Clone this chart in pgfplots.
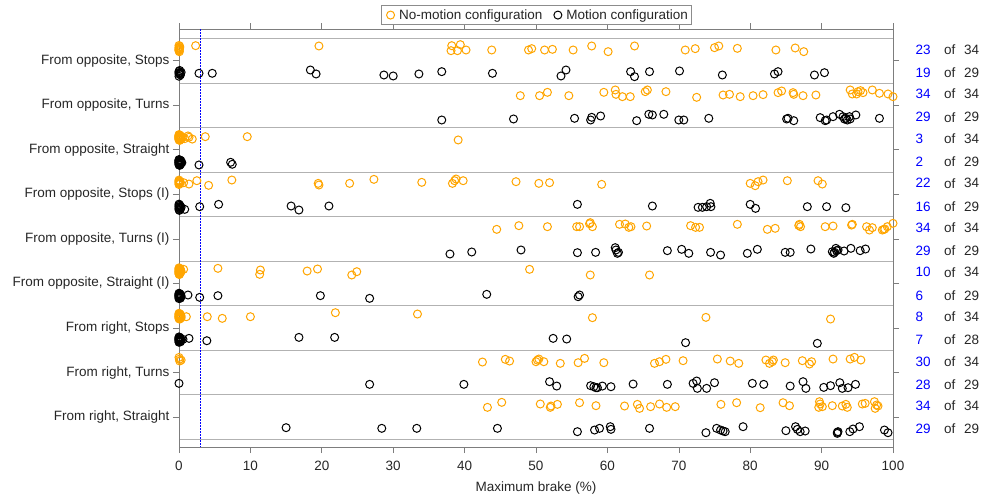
\documentclass[border=0pt]{standalone}
\usepackage{fontspec}
\setmainfont{Liberation Sans}
\usepackage{pgfplots}
\pgfplotsset{compat=1.18}
\definecolor{nomotion}{RGB}{255,165,0}
\definecolor{axisgray}{RGB}{125,125,125}
\definecolor{labelgray}{RGB}{38,38,38}
\newcommand{\lblfont}{\fontsize{13.5bp}{16bp}\selectfont}
% counts right of the axis: y, count, total
\newcommand{\cnt}[3]{%
  \node[anchor=west, inner sep=0pt, font=\lblfont, text=blue, xshift=22.5bp] at (axis cs:100,#1) {#2};
  \node[anchor=west, inner sep=0pt, font=\lblfont, text=labelgray, xshift=51bp] at (axis cs:100,#1) {of};
  \node[anchor=west, inner sep=0pt, font=\lblfont, text=labelgray, xshift=71bp] at (axis cs:100,#1) {#3};}

\begin{document}
\begin{tikzpicture}
\begin{axis}[
  scale only axis, width=714bp, height=418bp,
  xmin=0, xmax=100, ymin=0.29, ymax=9.67, y dir=reverse,
  clip=false,
  xtick={0,10,...,100},
  ytick={1,...,9},
  yticklabels={{From opposite, Stops},{From opposite, Turns},{From opposite, Straight},
    {From opposite, Stops (I)},{From opposite, Turns (I)},{From opposite, Straight (I)},
    {From right, Stops},{From right, Turns},{From right, Straight}},
  minor ytick={0.5,1.5,...,9.5},
  yminorgrids, minor tick length=0pt,
  minor grid style={black!30, line width=0.8bp},
  tick align=outside, major tick length=6bp,
  major tick style={axisgray, line width=0.6bp},
  axis line style={axisgray, line width=0.6bp},
  tick label style={font=\lblfont, text=labelgray},
  xticklabel shift=5bp,
  /pgf/number format/assume math mode=true,
  xlabel={Maximum brake (\%)},
  xlabel style={font=\lblfont, text=labelgray, yshift=-4bp},
  legend columns=2,
  legend cell align=left,
  legend image code/.code={\draw[#1] plot coordinates {(0bp,0bp)};\path (-8bp,0bp) (6bp,0bp);},
  legend style={at={(0.5,1)}, anchor=south, yshift=4bp, draw=black!45, line width=0.6bp,
    font=\lblfont, text=labelgray, inner xsep=1bp, inner ysep=2bp,
    /tikz/every even column/.append style={column sep=5bp}},
]
\addplot[only marks, mark=o, mark size=4bp, nomotion, line width=1bp] coordinates {
(0,0.66) (0,0.70) (0.05,0.74) (0,0.78) (0.1,0.68) (0,0.72) (0.05,0.80) (0,0.76) (0.1,0.71) (0,0.75) (2.33,0.664)
(19.6,0.671) (38.2,0.664) (38.1,0.776) (39.4,0.641) (39.0,0.776) (40.2,0.761) (43.8,0.761) (48.95,0.761)
(49.4,0.731) (51.2,0.761) (52.3,0.746) (55.2,0.761) (57.8,0.671) (60.1,0.798) (63.8,0.671) (70.9,0.761)
(72.3,0.731) (75.0,0.709) (75.6,0.671) (78.2,0.724) (83.6,0.761) (86.3,0.716) (87.5,0.798)
(47.8,1.786) (50.5,1.786) (51.6,1.711) (54.6,1.786) (59.5,1.711) (61.1,1.658) (61.2,1.756) (62.1,1.808)
(63.2,1.808) (65.3,1.696) (65.6,1.658) (68.2,1.696) (72.5,1.823) (76.2,1.771) (77.1,1.756) (78.6,1.808)
(80.4,1.786) (81.8,1.763) (83.9,1.718) (84.4,1.681) (86.0,1.718) (86.1,1.756) (87.4,1.786) (89.2,1.771)
(94.0,1.658) (94.3,1.748) (95.1,1.696) (94.9,1.748) (95.45,1.673) (95.8,1.718) (97.1,1.658) (98.1,1.733)
(99.3,1.748) (100,1.808)
(0,2.66) (0,2.68) (0,2.70) (0,2.72) (0,2.74) (0,2.76) (0,2.78) (0.1,2.67) (0.1,2.71) (0.1,2.75) (0.1,2.79)
(0.2,2.69) (0.2,2.73) (0.2,2.77) (0,2.69) (0,2.73) (0,2.75) (0.05,2.71) (0.05,2.77) (0.15,2.72) (0.15,2.74)
(0.3,2.70) (0.3,2.76) (0,2.71) (0.1,2.73) (0.2,2.75) (0.55,2.72) (0.8,2.75) (1.26,2.69) (1.4,2.72) (1.86,2.76)
(3.68,2.706) (9.56,2.706) (39.1,2.780)
(0,3.68) (0,3.70) (0,3.72) (0,3.74) (0,3.76) (0,3.78) (0.1,3.71) (0.1,3.75) (0.2,3.73)
(0.65,3.739) (1.4,3.769) (2.5,3.694)
(4.15,3.798) (7.4,3.679) (19.5,3.754) (19.6,3.791) (23.9,3.754) (27.3,3.664) (34.0,3.731) (38.3,3.754)
(38.6,3.694) (38.8,3.656) (39.8,3.694) (47.2,3.716) (50.4,3.754) (51.9,3.739) (59.2,3.776) (80.0,3.754)
(80.7,3.806) (81.1,3.716) (81.8,3.679) (85.2,3.694) (89.5,3.694) (90.1,3.769)
(44.5,4.786) (47.6,4.703) (51.6,4.726) (55.7,4.726) (56.1,4.726) (57.6,4.636) (57.9,4.726) (61.7,4.673)
(62.5,4.666) (63.0,4.741) (63.3,4.726) (65.5,4.711) (71.65,4.703) (72.35,4.741) (72.9,4.741) (78.2,4.673)
(82.4,4.786) (83.5,4.763) (86.9,4.673) (87.05,4.726) (90.5,4.726) (91.6,4.711) (94.3,4.673) (96.3,4.726)
(96.7,4.801) (97.1,4.748) (98.5,4.801) (98.85,4.778) (99.2,4.726) (100,4.651) (86.8,4.70) (94.2,4.69)
(98.7,4.79) (57.5,4.66)
(0,5.65) (0,5.67) (0,5.69) (0,5.71) (0,5.73) (0,5.75) (0,5.77) (0,5.79) (0.1,5.66) (0.1,5.70) (0.1,5.74)
(0.1,5.78) (0.2,5.68) (0.2,5.72) (0.2,5.76) (0.05,5.68) (0.05,5.72) (0.05,5.80) (0.15,5.70) (0.15,5.75)
(0.3,5.73) (0,5.74) (0.1,5.72) (0.65,5.683)
(5.45,5.661) (11.4,5.698) (11.3,5.795) (17.95,5.721) (19.4,5.676) (24.2,5.810) (24.9,5.736) (49.1,5.683)
(57.6,5.810) (65.9,5.810)
(0,6.67) (0,6.69) (0,6.71) (0,6.73) (0,6.75) (0,6.77) (0,6.79) (0.1,6.68) (0.1,6.72) (0.1,6.76) (0.1,6.80)
(0.2,6.70) (0.2,6.74) (0.2,6.78) (0.05,6.70) (0.05,6.74) (0.05,6.78) (0.15,6.72) (0.15,6.76) (0.3,6.73)
(0.3,6.77) (0,6.74) (0.1,6.74) (0.2,6.72) (0.05,6.76) (1.03,6.746)
(3.96,6.746) (6.06,6.783) (10.0,6.746) (21.9,6.656) (33.4,6.686) (57.9,6.768) (73.8,6.761) (91.25,6.798)
(0,7.66) (0.05,7.70) (0.3,7.72) (0.1,7.74)
(42.5,7.763) (45.7,7.703) (46.3,7.741) (50.0,7.756) (50.4,7.696) (50.2,7.72) (51.1,7.756) (53.4,7.793)
(55.9,7.778) (56.8,7.681) (59.5,7.778) (66.6,7.793) (67.3,7.756) (68.2,7.703) (70.6,7.733) (75.4,7.696)
(77.2,7.741) (78.4,7.793) (82.2,7.718) (82.7,7.793) (83.1,7.756) (83.25,7.718) (84.9,7.778) (87.3,7.733)
(88.3,7.808) (88.6,7.756) (91.6,7.696) (94.0,7.696) (94.6,7.658) (95.5,7.718)
(43.2,8.780) (45.2,8.668) (50.6,8.705) (52.0,8.780) (52.1,8.750) (53.0,8.713) (56.1,8.676) (58.4,8.743)
(62.4,8.750) (64.2,8.713) (64.5,8.803) (66.05,8.765) (67.3,8.705) (68.3,8.780) (69.5,8.765) (75.9,8.713)
(78.1,8.676) (81.4,8.788) (84.6,8.676) (85.5,8.743) (89.7,8.653) (89.6,8.780) (89.8,8.705) (90.1,8.765)
(91.5,8.743) (92.9,8.750) (93.4,8.713) (93.6,8.780) (95.7,8.705) (96.1,8.691) (97.4,8.653) (97.5,8.803)
(97.7,8.728) (97.9,8.750)
};
\addlegendentry{No-motion configuration}
\addplot[only marks, mark=o, mark size=4bp, black, line width=1bp] coordinates {
(0,1.24) (0.1,1.28) (0.2,1.32) (0,1.30) (0.3,1.26) (0,1.35) (0.1,1.22) (0.2,1.29) (0,1.27) (2.8,1.284)
(4.66,1.284) (18.4,1.210) (19.2,1.299) (28.7,1.322) (30.0,1.344) (33.6,1.299) (36.8,1.247) (43.9,1.284)
(53.5,1.344) (54.2,1.210) (63.25,1.247) (63.8,1.359) (65.9,1.247) (70.1,1.232) (76.1,1.322) (83.4,1.299)
(83.9,1.247) (89.0,1.322) (90.4,1.270)
(36.8,2.332) (46.85,2.309) (55.4,2.294) (57.65,2.332) (57.8,2.272) (59.05,2.242) (64.1,2.347) (65.8,2.204)
(66.3,2.219) (67.9,2.204) (70.0,2.332) (70.7,2.332) (74.2,2.294) (85.1,2.309) (85.3,2.294) (86.1,2.347)
(89.8,2.279) (90.5,2.347) (90.7,2.332) (91.6,2.257) (92.5,2.204) (93.0,2.257) (93.4,2.294) (93.6,2.332)
(93.9,2.257) (94.0,2.309) (94.8,2.219) (98.1,2.294) (93.2,2.31)
(0,3.22) (0,3.24) (0,3.26) (0,3.28) (0,3.30) (0,3.32) (0,3.34) (0.1,3.23) (0.1,3.27) (0.1,3.31) (0.2,3.25)
(0.2,3.29) (0.2,3.33) (0.3,3.27) (0.3,3.30) (0.05,3.25) (0.05,3.29) (0.15,3.28) (0.15,3.32) (0.4,3.29)
(0,3.25) (0,3.29) (0.1,3.35) (0.25,3.24) (0.05,3.33) (0.2,3.28) (2.8,3.341)
(7.23,3.281) (7.46,3.326)
(0,4.22) (0,4.25) (0,4.28) (0,4.31) (0,4.34) (0.1,4.24) (0.1,4.30) (0.2,4.27) (0.2,4.33) (0.3,4.29)
(0.05,4.36) (0.8,4.337) (2.9,4.277)
(5.55,4.225) (15.7,4.262) (16.8,4.352) (21.0,4.262) (55.8,4.225) (66.3,4.262) (72.7,4.292) (73.3,4.292)
(73.9,4.277) (74.4,4.202) (74.5,4.277) (80.0,4.225) (80.75,4.315) (88.0,4.277) (90.7,4.277) (93.4,4.300)
(37.95,5.339) (41.0,5.294) (47.9,5.249) (55.8,5.309) (58.35,5.302) (61.1,5.197) (61.2,5.249) (61.55,5.302)
(61.4,5.324) (68.4,5.264) (70.4,5.234) (71.4,5.324) (74.45,5.302) (75.85,5.362) (79.6,5.324) (81.0,5.234)
(84.9,5.302) (85.6,5.302) (88.5,5.227) (91.5,5.287) (91.7,5.324) (92.0,5.212) (92.1,5.264) (92.3,5.249)
(93.15,5.272) (94.1,5.212) (95.4,5.264) (96.15,5.227) (91.8,5.30)
(0,6.22) (0,6.24) (0,6.26) (0,6.28) (0,6.30) (0,6.32) (0,6.34) (0.1,6.23) (0.1,6.27) (0.1,6.31) (0.2,6.25)
(0.2,6.29) (0.2,6.33) (0.05,6.25) (0.05,6.29) (0.15,6.27) (0.15,6.31) (0.3,6.28) (0,6.27) (0.1,6.29)
(0.25,6.30) (1.26,6.259) (2.9,6.312)
(5.45,6.274) (19.8,6.274) (26.7,6.334) (43.1,6.244) (55.9,6.297) (56.1,6.259)
(0,7.20) (0,7.22) (0,7.24) (0,7.26) (0,7.28) (0,7.30) (0,7.32) (0.1,7.21) (0.1,7.25) (0.1,7.29) (0.2,7.23)
(0.2,7.27) (0.2,7.31) (0.05,7.24) (0.05,7.28) (0.15,7.26) (0.15,7.30) (0.3,7.27) (0,7.25)
(0.56,7.255) (1.4,7.232)
(3.9,7.285) (16.8,7.210) (21.8,7.210) (52.4,7.232) (54.3,7.247) (70.95,7.329) (89.4,7.344)
(0,8.242) (26.7,8.264) (39.9,8.264) (51.9,8.204) (52.9,8.302) (57.65,8.294) (58.1,8.317) (58.4,8.339)
(58.6,8.339) (59.3,8.302) (60.5,8.317) (63.6,8.257) (68.4,8.264) (72.0,8.242) (72.5,8.189) (72.6,8.354)
(73.9,8.354) (75.0,8.227) (80.3,8.242) (81.9,8.264) (85.6,8.302) (87.4,8.204) (87.8,8.354) (90.3,8.332)
(91.25,8.294) (92.55,8.227) (92.9,8.354) (93.7,8.339) (94.75,8.264)
(15.0,9.236) (28.4,9.251) (33.3,9.251) (44.6,9.251) (55.8,9.326) (58.2,9.289) (58.9,9.251) (60.4,9.214)
(60.5,9.274) (65.9,9.251) (73.8,9.349) (75.3,9.251) (75.85,9.289) (76.2,9.311) (76.5,9.326) (79.0,9.214)
(85.0,9.304) (86.35,9.214) (86.6,9.274) (87.0,9.326) (87.7,9.311) (92.2,9.341) (92.2,9.364) (92.3,9.326)
(93.95,9.326) (94.4,9.266) (95.3,9.214) (98.8,9.289) (99.3,9.349)
};
\addlegendentry{Motion configuration}
\addplot[forget plot, blue, line width=1.6bp, dash pattern=on 1.6bp off 1.4bp] coordinates {(3,0.29) (3,9.67)};
\cnt{0.75}{23}{34}\cnt{1.27}{19}{29}
\cnt{1.75}{34}{34}\cnt{2.27}{29}{29}
\cnt{2.75}{3}{34}\cnt{3.27}{2}{29}
\cnt{3.75}{22}{34}\cnt{4.27}{16}{29}
\cnt{4.75}{34}{34}\cnt{5.27}{29}{29}
\cnt{5.75}{10}{34}\cnt{6.27}{6}{29}
\cnt{6.75}{8}{34}\cnt{7.27}{7}{28}
\cnt{7.75}{30}{34}\cnt{8.27}{28}{29}
\cnt{8.75}{34}{34}\cnt{9.27}{29}{29}
\end{axis}
\pgfresetboundingbox
\path[use as bounding box] ([xshift=-179bp,yshift=-48bp]current axis.south west)
  rectangle ([xshift=97bp,yshift=29bp]current axis.north east);
\end{tikzpicture}
\end{document}
